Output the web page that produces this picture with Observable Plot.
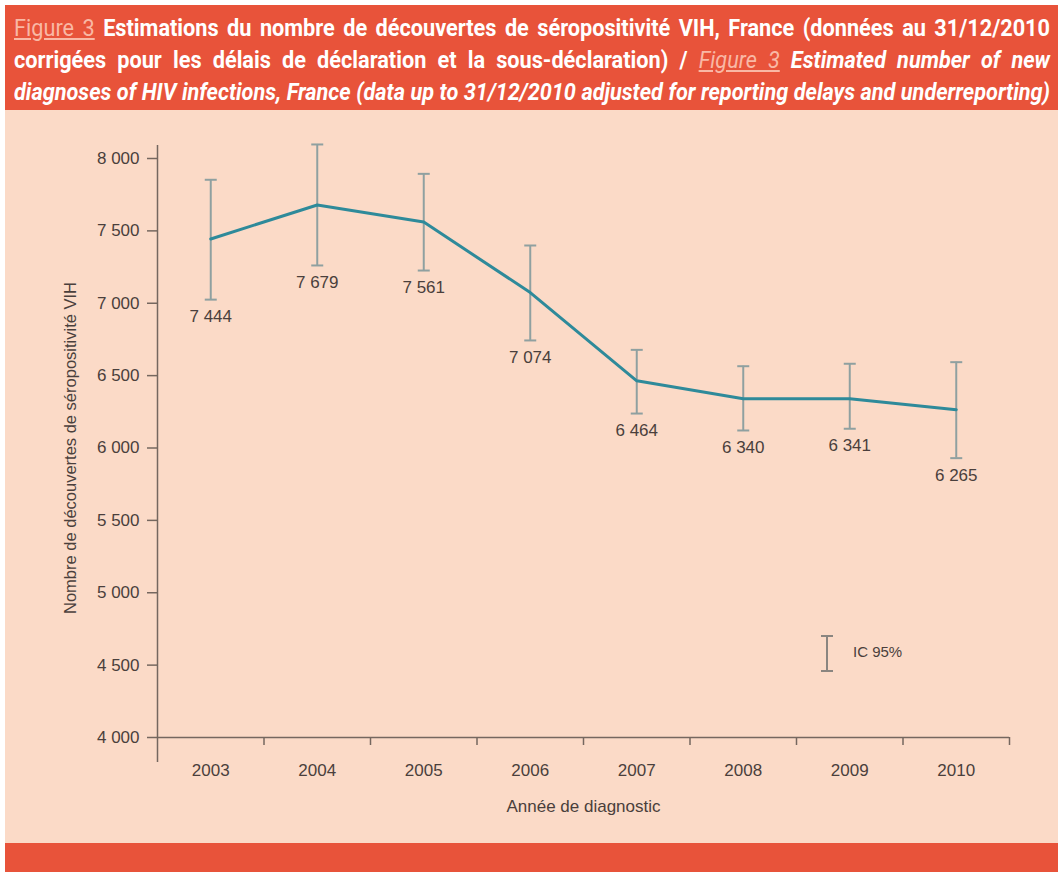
<!DOCTYPE html>
<html>
<head>
<meta charset="utf-8">
<script src="https://cdn.jsdelivr.net/npm/d3@7"></script>
<script src="https://cdn.jsdelivr.net/npm/@observablehq/plot@0.6"></script>
<style>
  html, body { margin: 0; padding: 0; background: #ffffff; }
  #wrap { position: absolute; left: 5px; top: 5px; width: 1053px; }
  #title {
    background: #E8533A; height: 105px; box-sizing: border-box;
    padding: 8px 8px 0 9px; color: #ffffff; overflow: hidden;
  }
  #titleInner {
    font-family: Roboto, "Liberation Sans", sans-serif;
    font-weight: bold; font-size: 23px; line-height: 32px;
    transform-origin: 0 0; white-space: nowrap;
  }
  #titleInner .ln { display: block; text-align: justify; text-align-last: justify; }
  #titleInner .fig { color: #F9B8A5; font-weight: normal; text-decoration: underline; }
  #titleInner .en { font-style: italic; }
  #chart { position: relative; background: #FBDAC7; height: 733px; }
  #foot { background: #E8533A; height: 30px; }
  #legend { position: absolute; left: 813px; top: 524px; height: 40px;
    font-family: "Liberation Sans", sans-serif; font-size: 15px; color: #4a3f3c; }
  #legend svg { position: absolute; left: 0; top: 0; }
  #legend span { position: absolute; left: 35px; top: 9px; white-space: nowrap; }
</style>
</head>
<body>
<div id="wrap">
  <div id="title">
    <div id="titleInner">
      <span class="ln"><span class="fig">Figure 3</span> Estimations du nombre de découvertes de séropositivité VIH, France (données au 31/12/2010</span>
      <span class="ln">corrigées pour les délais de déclaration et la sous-déclaration) / <span class="en"><span class="fig">Figure 3</span> Estimated number of new</span></span>
      <span class="ln en">diagnoses of HIV infections, France (data up to 31/12/2010 adjusted for reporting delays and underreporting)</span>
    </div>
  </div>
  <div id="chart">
    <div id="legend">
      <svg width="30" height="40"><g stroke="#8a8580" stroke-width="2"><line x1="9" x2="9" y1="2" y2="37"/><line x1="3" x2="15" y1="2" y2="2"/><line x1="3" x2="15" y1="37" y2="37"/></g></svg>
      <span>IC 95%</span>
    </div>
  </div>
  <div id="foot"></div>
</div>
<script>
const years = [2003, 2004, 2005, 2006, 2007, 2008, 2009, 2010];
const estimates = [7444, 7679, 7561, 7074, 6464, 6340, 6341, 6265];
const ciLow = [7025, 7261, 7226, 6743, 6238, 6121, 6133, 5930];
const ciHigh = [7853, 8097, 7894, 7399, 6678, 6565, 6582, 6593];
const yTicks = [4000, 4500, 5000, 5500, 6000, 6500, 7000, 7500, 8000];
const yLabel = "Nombre de découvertes de séropositivité VIH";
const xLabel = "Année de diagnostic";

// fit title lines: measure natural widths, compress horizontally, then justify
(function fitTitle() {
  const inner = document.getElementById("titleInner");
  const lines = Array.from(inner.querySelectorAll(".ln"));
  lines.forEach(l => l.style.display = "inline-block");
  const maxW = Math.max(...lines.map(l => l.getBoundingClientRect().width));
  lines.forEach(l => l.style.display = "block");
  const avail = 1036;
  const s = Math.min(1, avail / (maxW + 2));
  inner.style.width = (avail / s) + "px";
  inner.style.transform = `scaleX(${s})`;
})();

const data = years.map((y, i) => ({year: y, value: estimates[i], lo: ciLow[i], hi: ciHigh[i]}));
const boundaries = years.map(y => y + 0.5);

const fr = d3.formatLocale({decimal: ",", thousands: " ", grouping: [3], currency: ["", " €"]});
const fmt = fr.format(",d");

const ink = "#4a3f3c";
const axisColor = "#75675f";
const lineColor = "#2E8A9A";
const barColor = "#8FA0A0";
const font = '"Liberation Sans", sans-serif';

const capSymbol = {
  draw(context, size) {
    const r = Math.sqrt(size / Math.PI);
    context.moveTo(-r, 0);
    context.lineTo(r, 0);
  }
};

const chart = Plot.plot({
  width: 1053,
  height: 733,
  marginLeft: 152,
  marginRight: 49,
  marginTop: 48,
  marginBottom: 106,
  style: {background: "transparent", fontFamily: font, fontSize: "17px", color: ink},
  x: {type: "linear", domain: [years[0] - 0.5, years[years.length - 1] + 0.5]},
  y: {domain: [yTicks[0], yTicks[yTicks.length - 1]]},
  marks: [
    Plot.axisY({ticks: yTicks, tickSize: 10, tickPadding: 8, tickFormat: fmt, stroke: axisColor, strokeWidth: 1.5, fill: ink, fontSize: 17, label: null}),
    Plot.axisX({ticks: boundaries, tickSize: 8, tickFormat: () => "", stroke: axisColor, strokeWidth: 1.5, label: null}),
    Plot.axisX({ticks: years, tickSize: 0, tickPadding: 26, tickFormat: d => String(d), fill: ink, fontSize: 17, label: null}),
    Plot.ruleY([yTicks[0]], {stroke: axisColor, strokeWidth: 1.5}),
    Plot.ruleX([years[0] - 0.5], {y1: 3828, y2: 8090, stroke: axisColor, strokeWidth: 1.5}),
    Plot.ruleX(data, {x: "year", y1: "lo", y2: "hi", stroke: barColor, strokeWidth: 2}),
    Plot.dot(data, {x: "year", y: "lo", symbol: capSymbol, r: 6, stroke: barColor, strokeWidth: 2, fill: "none"}),
    Plot.dot(data, {x: "year", y: "hi", symbol: capSymbol, r: 6, stroke: barColor, strokeWidth: 2, fill: "none"}),
    Plot.line(data, {x: "year", y: "value", stroke: lineColor, strokeWidth: 3}),
    Plot.text(data, {x: "year", y: "lo", text: d => fmt(d.value), dy: 17, fill: ink, fontSize: 17}),
    Plot.text([yLabel], {frameAnchor: "left", textAnchor: "middle", lineAnchor: "middle", text: d => d, rotate: -90, dx: -87, fill: ink, fontSize: 16.5}),
    Plot.text([xLabel], {frameAnchor: "bottom", textAnchor: "middle", lineAnchor: "middle", text: d => d, dy: 69, fill: ink, fontSize: 17})
  ]
});
document.getElementById("chart").appendChild(chart);
</script>
</body>
</html>
